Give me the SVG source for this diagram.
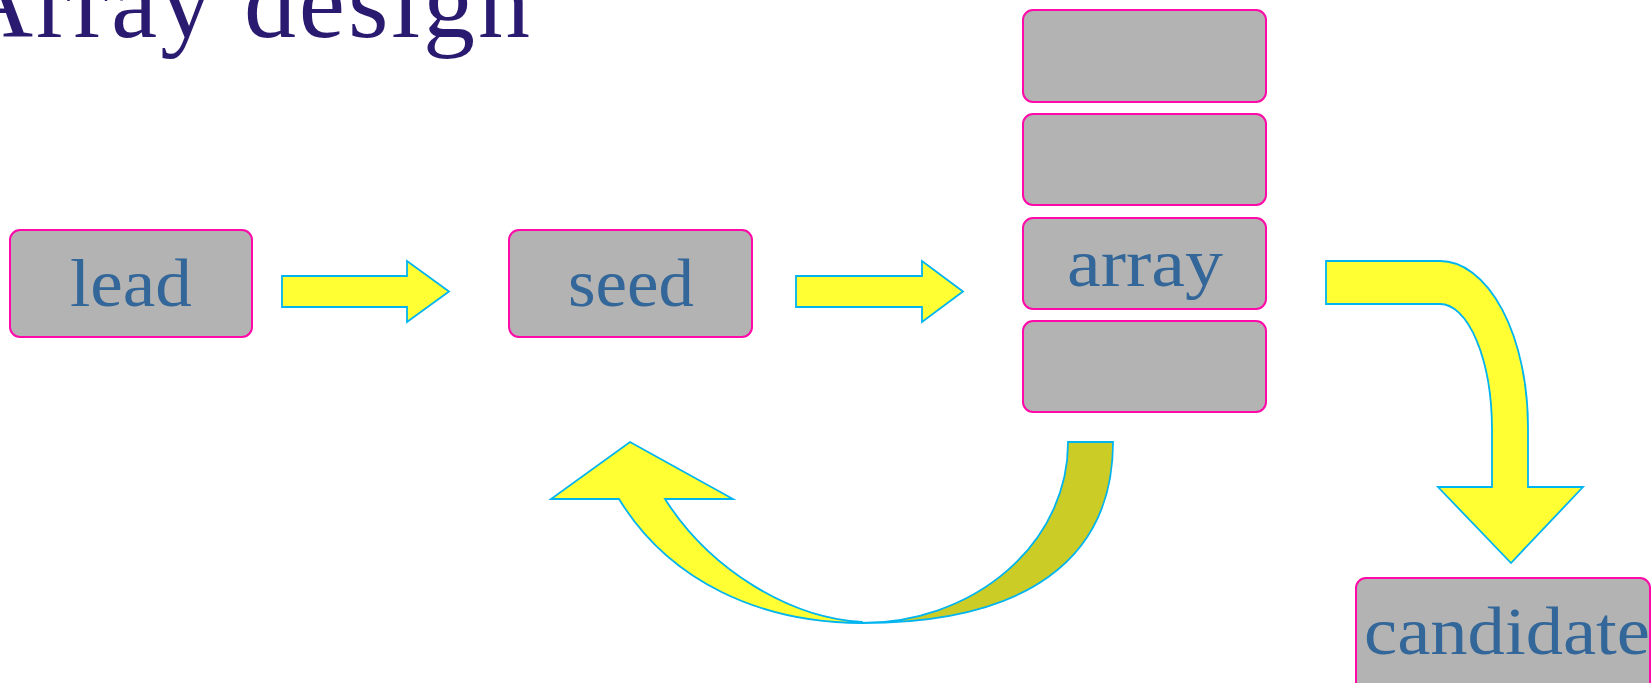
<svg xmlns="http://www.w3.org/2000/svg" width="1651" height="683" viewBox="0 0 1651 683">
  <style>
    .box { fill: #b3b3b3; stroke: #ff0aa8; stroke-width: 2; }
    .lbl { font-family: "Liberation Serif", "DejaVu Serif", serif; font-size: 68px; fill: #336699; }
    .title { font-family: "Liberation Serif", "DejaVu Serif", serif; font-size: 104px; fill: #2b1b70; }
    .arw { fill: #ffff33; stroke: #00b4f0; stroke-width: 1.8; stroke-linejoin: miter; }
    .arw-dark { fill: #cccc26; stroke: #00b4f0; stroke-width: 1.8; }
  </style>

  <rect width="1651" height="683" fill="#ffffff"/>

  <text class="title" x="-42" y="37" textLength="572" lengthAdjust="spacing">Array design</text>

  <g id="node-lead">
    <rect class="box" x="10" y="230" width="242" height="107" rx="10"/>
    <text class="lbl" x="70" y="306" textLength="122" lengthAdjust="spacingAndGlyphs">lead</text>
  </g>

  <g id="node-seed">
    <rect class="box" x="509" y="230" width="243" height="107" rx="10"/>
    <text class="lbl" x="568" y="306" textLength="126" lengthAdjust="spacingAndGlyphs">seed</text>
  </g>

  <g id="node-array">
    <rect class="box" x="1023" y="10" width="243" height="92" rx="10"/>
    <rect class="box" x="1023" y="114" width="243" height="91" rx="10"/>
    <rect class="box" x="1023" y="218" width="243" height="91" rx="10"/>
    <text class="lbl" x="1067" y="286" textLength="156" lengthAdjust="spacingAndGlyphs">array</text>
    <rect class="box" x="1023" y="321" width="243" height="91" rx="10"/>
  </g>

  <g id="node-candidate">
    <rect class="box" x="1356" y="578" width="294" height="125" rx="10"/>
    <text class="lbl" x="1364" y="654" textLength="286" lengthAdjust="spacingAndGlyphs">candidate</text>
  </g>

  <g id="connectors">
    <!-- lead -> seed -->
    <path class="arw" d="M282,276 L407,276 L407,261 L449,291.5 L407,322 L407,307 L282,307 Z"/>
    <!-- seed -> array -->
    <path class="arw" d="M796,276 L922,276 L922,261 L963,291.5 L922,322 L922,307 L796,307 Z"/>
    <!-- array -> candidate (bent) -->
    <path class="arw" d="M1326,261 L1440,261 A88,166 0 0 1 1528,427 L1528,487 L1583,487 L1511,563 L1438,487 L1492,487 L1492,430 A52,126 0 0 0 1440,304 L1326,304 Z"/>
    <!-- array -> seed (return loop): back face of the ribbon -->
    <path class="arw-dark" d="M1068,442 L1113,442 C1113,560 1025,623 862,623 A206,180 0 0 0 1068,442 Z"/>
    <!-- front face of the ribbon with head -->
    <path class="arw" d="M862,623 C760,623 669,581 619,499 L551,499 L630,442 L733,499 L665,499 C710,570 790,618 862,622 Z"/>
  </g>
</svg>
